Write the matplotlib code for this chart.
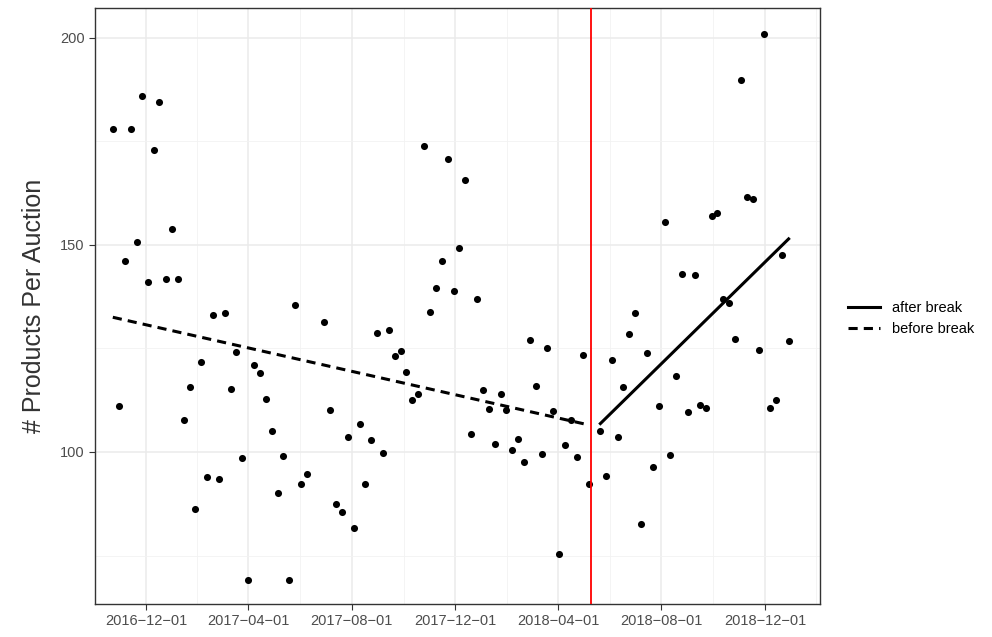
import numpy as np
import matplotlib
matplotlib.use("Agg")
import matplotlib.pyplot as plt
import matplotlib.dates as mdates
import datetime as dt

plt.rcParams['font.family'] = ['Liberation Sans', 'DejaVu Sans']

start = np.datetime64("2016-10-23")
day_offsets = [0,7,14,21,28,35,41,48,55,63,70,77,84,91,97,104,111,118,125,132,139,145,152,159,166,173,181,188,195,201,208,215,222,229,
               249,256,263,270,277,284,291,298,304,312,319,326,333,340,346,353,360,367,374,381,388,395,402,408,415,422,429,437,444,451,458,464,
               471,478,485,492,499,506,512,519,526,533,540,547,555,561,575,582,589,596,602,609,616,623,630,637,644,651,657,664,671,678,686,693,
               700,707,713,720,727,734,741,748,755,762,768,775,782,789,797]
values = [178,111.1,146,178,150.7,186,141,173,184.5,141.8,153.8,141.8,107.7,115.7,86.2,121.8,94,133,93.5,133.6,115.3,124.1,98.6,69,121,119.1,112.8,105.1,90.1,99.0,69,135.5,92.3,94.7,
          131.4,110.1,87.4,85.5,103.6,81.6,106.8,92.3,102.9,128.7,99.8,129.4,123.2,124.4,119.3,112.6,114.1,173.9,133.8,139.6,146.1,170.8,138.9,149.3,165.7,104.3,137,115,110.4,101.9,114.1,110.1,
          100.5,103.1,97.6,127,116,99.5,125.1,109.9,75.4,101.7,107.7,98.8,123.4,92.3,105.1,94.3,122.2,103.6,115.7,128.5,133.6,82.6,123.9,96.4,111.1,155.6,99.3,118.4,143,109.7,142.8,111.4,
          110.6,157.1,157.7,137,136,127.2,189.9,161.6,161.1,124.7,201,110.6,112.6,147.6,126.9]
break_date = np.datetime64("2018-05-10")
tick_dates = ["2016-12-01","2017-04-01","2017-08-01","2017-12-01","2018-04-01","2018-08-01","2018-12-01"]

dates = start + np.array(day_offsets).astype("timedelta64[D]")
y = np.array(values)
xn = mdates.date2num(dates.astype("datetime64[D]").astype(dt.datetime))
bn = mdates.date2num(break_date.astype(dt.datetime))

fig = plt.figure(figsize=(9.92, 6.37), dpi=100)
ax = fig.add_axes([95/992, 33/637, 725/992, 596/637])
ax.scatter(xn, y, s=26, color="black", zorder=3, linewidths=0)
pre = xn < bn
for mask, ls, lab in [(pre, (0, (3, 2)), "before break"), (~pre, "-", "after break")]:
    c = np.polyfit(xn[mask], y[mask], 1)
    xs = np.array([xn[mask].min(), xn[mask].max()])
    ax.plot(xs, np.polyval(c, xs), color="black", lw=2.2, ls=ls, label=lab, zorder=4)
ax.axvline(bn, color="red", lw=1.3, zorder=5)

x0 = mdates.date2num(dt.datetime(2016, 10, 23)) - 21
ax.set_xlim(x0, x0 + 855)
ax.set_ylim(63.3, 207.2)
tn = [mdates.date2num(dt.datetime.strptime(t, "%Y-%m-%d")) for t in tick_dates]
ax.set_xticks(tn)
ax.set_xticklabels([t.replace("-", "\u2212") for t in tick_dates], fontsize=10.5, color="#4d4d4d")
ax.set_xticks([(a + b) / 2 for a, b in zip(tn[:-1], tn[1:])] + [tn[0] - 60, tn[-1] + 60], minor=True)
ax.set_yticks([100, 150, 200])
ax.set_yticklabels(["100", "150", "200"], fontsize=10.5, color="#4d4d4d")
ax.set_yticks([75, 125, 175], minor=True)
ax.grid(True, which="major", color="#ebebeb", lw=1.1)
ax.grid(True, which="minor", color="#f2f2f2", lw=0.6)
ax.set_axisbelow(True)
ax.tick_params(which="major", length=4, color="#333333")
ax.tick_params(which="minor", length=0)
for s in ax.spines.values():
    s.set_color("#333333"); s.set_linewidth(1)
ax.set_ylabel("# Products Per Auction", fontsize=18, color="#333333", labelpad=10)
h, l = ax.get_legend_handles_labels()
order = [1, 0]
fig.legend([h[i] for i in order], [l[i] for i in order], loc="center left", bbox_to_anchor=(835/992, 0.5),
           frameon=False, fontsize=10.5, handlelength=2.2)
fig.savefig("out.png", dpi=100)
